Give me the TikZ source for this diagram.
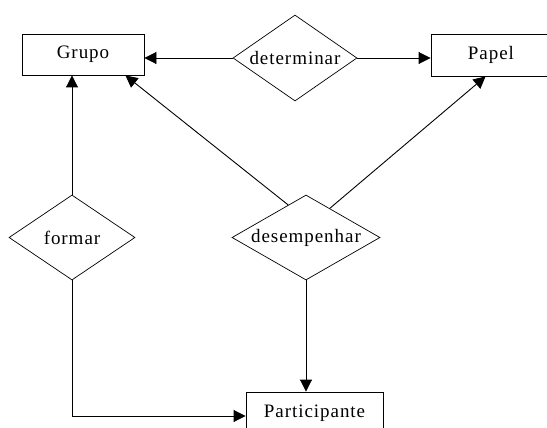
\documentclass[tikz,border=0pt]{standalone}
\usepackage{fontspec}
\setmainfont{Liberation Serif}
\newfontfamily\diagfont[LetterSpace=5]{Liberation Serif}
\usetikzlibrary{shapes.geometric,arrows.meta,calc}
\tikzset{
  txt/.style={font=\diagfont\fontsize{19}{22}\selectfont},
  entity/.style={draw, rectangle, line width=0.9pt, inner sep=0pt, txt},
  relation/.style={draw, diamond, line width=0.7pt, inner sep=0pt},
  link/.style={line width=0.9pt},
  arr/.style={link, -{Triangle[length=12pt,width=12pt]}}
}
\begin{document}
\begin{tikzpicture}[x=1pt,y=-1pt]
  \useasboundingbox (0,0) rectangle (547,428);
  \clip (0,0) rectangle (547,428);
  \fill[white] (0,0) rectangle (547,428);

  % entities
  \node[entity, minimum width=122pt, minimum height=41pt] (grupo) at (83,54.5) {Grupo};
  \node[entity, minimum width=120pt, minimum height=42pt] (papel) at (491,55) {Papel};
  \node[entity, minimum width=137pt, minimum height=42pt] (part) at (314.5,413) {Particip\kern1pt ante};

  % relationships (text placed at the centre of each empty diamond)
  \node[relation, minimum width=124pt, minimum height=86pt] (det) at (295,58) {};
  \node[txt] (dettext) at (det.center) {determ\kern1pt inar};
  \node[relation, minimum width=126pt, minimum height=85pt] (form) at (72,237.5) {};
  \node[txt] (formtext) at (form.center) {form\kern1pt ar};
  \node[relation, minimum width=148pt, minimum height=85pt] (des) at (306,237.5) {};
  \node[txt] (destext) at (des.center) {desempenhar};

  % determinar
  \draw[arr] (det.west) -- (det.west -| grupo.east);
  \draw[arr] (det.east) -- (det.east -| papel.west);

  % formar
  \draw[arr] (form.north) -- (form.north |- grupo.south);
  \draw[arr] (form.south) |- ($(part.west)+(0,3)$);

  % desempenhar
  \draw[arr] ($(des.west)!0.76!(des.north)$) -- ($(grupo.south east)+(-19,0)$);
  \draw[arr] ($(des.north)!0.32!(des.east)$) -- ($(papel.south west)+(55,0)$);
  \draw[arr] (des.south) -- (des.south |- part.north);
\end{tikzpicture}
\end{document}
